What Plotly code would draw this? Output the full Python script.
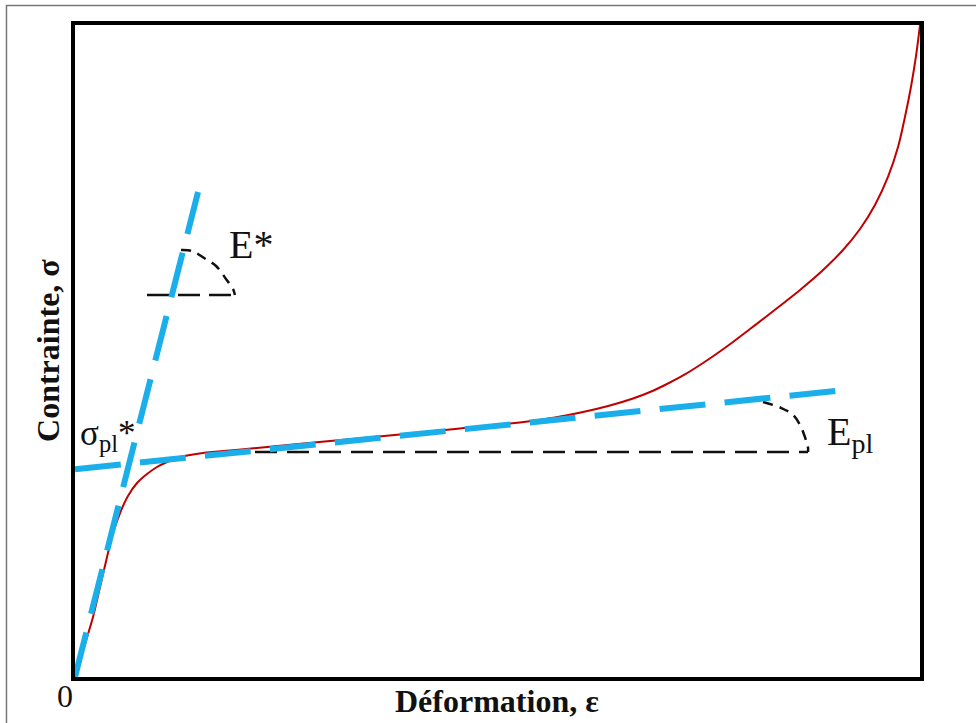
import plotly.graph_objects as go

# ---- data (strain, stress in normalised units 0-100) ----
curve_strain = [0, 1.07, 2.13, 2.96, 3.79, 4.50, 5.33, 6.27, 7.34, 8.52, 9.70, 10.89,
                12.07, 13.61, 15.15, 18.34, 21.54, 30.18, 38.46, 45.56, 52.66, 56.80,
                60.12, 63.31, 66.04, 68.05, 70.06, 72.07, 73.96, 75.98, 77.87, 79.88,
                81.89, 84.02, 85.80, 88.40, 90.89, 92.90, 94.67, 96.21, 97.40, 98.22,
                98.93, 99.53, 100]
curve_stress = [0, 4.60, 9.20, 13.80, 18.40, 22.09, 25.15, 27.76, 29.75, 31.13, 32.21, 32.98,
                33.59, 34.05, 34.36, 34.74, 35.12, 36.20, 37.19, 38.11, 39.03, 39.80,
                40.64, 41.64, 42.71, 43.71, 44.94, 46.32, 47.85, 49.62, 51.38, 53.37,
                55.37, 57.52, 59.36, 62.27, 65.49, 68.71, 72.39, 76.69, 81.29, 85.89,
                90.49, 95.25, 100]

elastic_strain = [0, 14.56]
elastic_stress = [0, 74.39]

plateau_strain = [0, 90.06]
plateau_stress = [31.87, 43.87]

estar_h_strain = [8.52, 18.93]
estar_h_stress = [58.59, 58.59]
estar_arc_strain = [12.54, 13.85, 15.27, 16.69, 17.87, 18.70, 18.93]
estar_arc_stress = [65.49, 65.34, 64.26, 63.04, 61.04, 59.51, 58.59]

epl_h_strain = [21.30, 86.75]
epl_h_stress = [34.51, 34.51]
epl_arc_strain = [81.42, 83.60, 85.00, 85.80, 86.30, 86.60, 86.75, 86.75]
epl_arc_stress = [42.17, 41.25, 40.18, 38.65, 37.12, 35.90, 35.13, 34.51]

BLUE = "#1AAEEA"
RED = "#C00000"
SERIF = "Liberation Serif"
INK = "#111111"

fig = go.Figure()

def black(xs, ys, dash, shape="linear"):
    fig.add_trace(go.Scatter(x=xs, y=ys, mode="lines", line_shape=shape,
                             line=dict(color=INK, width=2.5, dash=dash),
                             hoverinfo="skip", showlegend=False))

black(estar_h_strain, estar_h_stress, "22px,9px")
black(estar_arc_strain, estar_arc_stress, "10px,7px", "spline")
black(epl_h_strain, epl_h_stress, "22px,10px")
black(epl_arc_strain, epl_arc_stress, "10px,7px", "spline")

fig.add_trace(go.Scatter(x=curve_strain, y=curve_stress, mode="lines",
                         line=dict(color=RED, width=2, shape="spline", smoothing=1.0),
                         hoverinfo="skip", showlegend=False))

for xs, ys in [(elastic_strain, elastic_stress), (plateau_strain, plateau_stress)]:
    fig.add_trace(go.Scatter(x=xs, y=ys, mode="lines",
                             line=dict(color=BLUE, width=6, dash="46px,19.3px"),
                             hoverinfo="skip", showlegend=False))

ann = []
ann.append(dict(x=17.99, y=66.4, xref="x", yref="y", text="E*", showarrow=False,
                xanchor="left", yanchor="middle",
                font=dict(family=SERIF, size=40, color=INK)))
ann.append(dict(x=88.76, y=37.3, xref="x", yref="y", text="E<sub>pl</sub>", showarrow=False,
                xanchor="left", yanchor="middle",
                font=dict(family=SERIF, size=40, color=INK)))
ann.append(dict(x=0.3, y=37.0, xref="x", yref="y", text="σ<sub>pl</sub>*", showarrow=False,
                xanchor="left", yanchor="middle",
                font=dict(family=SERIF, size=35, color=INK)))
ann.append(dict(x=-0.0118, y=-0.029, xref="paper", yref="paper", text="0", showarrow=False,
                xanchor="center", yanchor="middle",
                font=dict(family=SERIF, size=32, color=INK)))
ann.append(dict(x=0.4994, y=-0.0368, xref="paper", yref="paper", text="<b>Déformation, ε</b>",
                showarrow=False, xanchor="center", yanchor="middle",
                font=dict(family=SERIF, size=32, color=INK)))
ann.append(dict(x=-0.032, y=0.5015, xref="paper", yref="paper", text="<b>Contrainte, σ</b>",
                showarrow=False, xanchor="center", yanchor="middle", textangle=-90,
                font=dict(family=SERIF, size=32, color=INK)))

axis = dict(range=[0, 100], showgrid=False, zeroline=False, showticklabels=False,
            ticks="", showline=True, linecolor="black", linewidth=4, mirror=True)

fig.update_layout(
    width=976, height=723,
    margin=dict(l=75, r=56, t=25, b=46),
    paper_bgcolor="white", plot_bgcolor="white",
    xaxis=axis, yaxis=axis,
    annotations=ann,
    shapes=[dict(type="rect", xref="paper", yref="paper",
                 x0=-0.0811, x1=1.07, y0=-0.075, y1=1.0299,
                 line=dict(color="#777777", width=1.5), layer="below")],
)

fig.write_html("out.html")
